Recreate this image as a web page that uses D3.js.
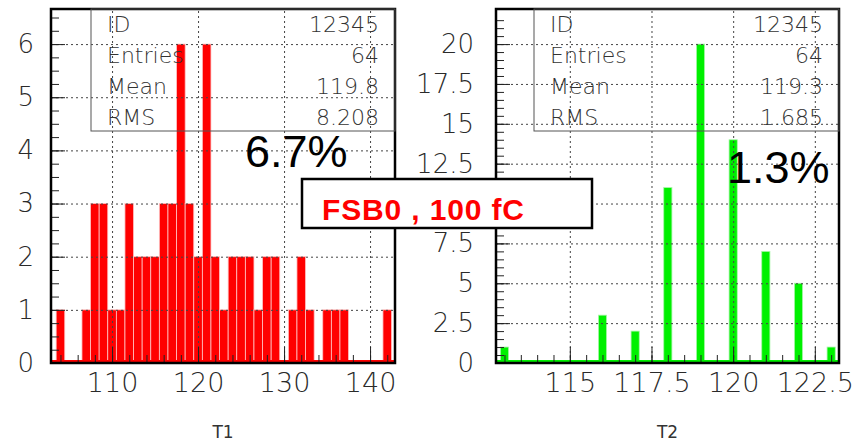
<!DOCTYPE html>
<html>
<head>
<meta charset="utf-8">
<script src="https://d3js.org/d3.v7.min.js"></script>
<style>
  html, body { margin: 0; padding: 0; background: #fff; }
  svg { display: block; }
  .tick text { font-family: 'DejaVu Sans', sans-serif; font-weight: 200; fill: #2a2a2a; }
  .stat { font-family: 'DejaVu Sans', sans-serif; font-weight: 200; font-size: 22px; fill: #333; }
</style>
</head>
<body>
<div id="chart"></div>
<script>
// ---- data ----
// T1: one-unit bins centred on the integers 103..142
var t1Bins = d3.range(103, 143);
var t1Counts = [0, 1, 0, 0, 1, 3, 3, 1, 1, 3,
                2, 2, 2, 3, 3, 6, 3, 2, 6, 2,
                1, 2, 2, 2, 1, 2, 2, 0, 1, 2,
                1, 0, 1, 1, 1, 0, 0, 0, 0, 1];
// T2: narrow bins, only these values are filled
var t2Bins = [113, 116, 117, 118, 119, 120, 121, 122, 123];
var t2Counts = [1, 3, 2, 11, 20, 14, 7, 5, 1];

var t1XTicks = [110, 120, 130, 140];
var t1YTicks = [0, 1, 2, 3, 4, 5, 6];
var t2XTicks = [115, 117.5, 120, 122.5];
var t2YTicks = [0, 2.5, 5, 7.5, 10, 12.5, 15, 17.5, 20];

var statLabels = ["ID", "Entries", "Mean", "RMS"];
var t1Stats = ["12345", "64", "119.8", "8.208"];
var t2Stats = ["12345", "64", "119.3", "1.685"];

var svg = d3.select("#chart").append("svg")
    .attr("width", 856)
    .attr("height", 443);

function histo(opt) {
    var x = d3.scaleLinear().domain(opt.xDomain).range([opt.x0, opt.x1]);
    var y = d3.scaleLinear().domain(opt.yDomain).range([opt.y1, opt.y0]);
    var g = svg.append("g");
    var w = opt.x1 - opt.x0, h = opt.y1 - opt.y0;

    // bars
    g.selectAll(".bar")
        .data(opt.bins.map(function(b, i){ return {v: b, n: opt.counts[i]}; })
                  .filter(function(d){ return d.n > 0; }))
        .enter().append("rect")
        .attr("x", function(d){ return Math.max(opt.x0, x(d.v - opt.half)); })
        .attr("width", function(d){ return x(d.v + opt.half) - Math.max(opt.x0, x(d.v - opt.half)); })
        .attr("y", function(d){ return y(d.n); })
        .attr("height", function(d){ return y(0) - y(d.n); })
        .attr("fill", opt.color)
        .attr("stroke", opt.edge)
        .attr("stroke-width", 0.8);

    // zero-level strip along the bottom
    g.append("rect")
        .attr("x", x(opt.xDomain[0]))
        .attr("y", y(0) - 3)
        .attr("width", w)
        .attr("height", 3)
        .attr("fill", opt.color);

    // grid
    var gx = g.append("g")
        .attr("transform", "translate(0," + opt.y1 + ")")
        .call(d3.axisBottom(x).tickValues(opt.xTicks).tickSize(-h).tickFormat(""));
    var gy = g.append("g")
        .attr("transform", "translate(" + opt.x0 + ",0)")
        .call(d3.axisLeft(y).tickValues(opt.yTicks.slice(1)).tickSize(-w).tickFormat(""));
    [gx, gy].forEach(function(a){
        a.select(".domain").remove();
        a.selectAll("line").attr("stroke", "#444").attr("stroke-dasharray", "2,3").attr("stroke-width", 1);
    });

    // minor + major ticks pointing inwards
    var mx = g.append("g")
        .attr("transform", "translate(0," + opt.y1 + ")")
        .call(d3.axisBottom(x).tickValues(opt.xMinor).tickSize(-8).tickFormat(""));
    var my = g.append("g")
        .attr("transform", "translate(" + opt.x0 + ",0)")
        .call(d3.axisLeft(y).tickValues(opt.yMinor).tickSize(-8).tickFormat(""));
    [mx, my].forEach(function(a){
        a.select(".domain").remove();
        a.selectAll("line").attr("stroke", "#222");
    });

    // labelled axes
    var ax = g.append("g")
        .attr("transform", "translate(0," + opt.y1 + ")")
        .call(d3.axisBottom(x).tickValues(opt.xTicks).tickSize(-16).tickPadding(10)
              .tickFormat(d3.format("")));
    var ay = g.append("g")
        .attr("transform", "translate(" + opt.x0 + ",0)")
        .call(d3.axisLeft(y).tickValues(opt.yTicks).tickSize(-14).tickPadding(opt.yPad)
              .tickFormat(d3.format("")));
    ax.select(".domain").remove();
    ay.select(".domain").remove();
    ax.selectAll("line").attr("stroke", "#222");
    ay.selectAll("line").attr("stroke", "#222");
    ax.selectAll("text").style("font-size", "27px");
    ay.selectAll("text").style("font-size", "26px");
    // labels that the annotation box covers in the original
    ay.selectAll(".tick").filter(function(d){ return opt.covered.indexOf(d) >= 0; })
        .select("text").remove();

    // frame
    g.append("rect")
        .attr("x", opt.x0).attr("y", opt.y0)
        .attr("width", w).attr("height", h)
        .attr("fill", "none")
        .attr("stroke", "#000")
        .attr("stroke-width", 2.5);

    // stats box
    g.append("rect")
        .attr("x", opt.boxX).attr("y", opt.y0)
        .attr("width", opt.x1 - opt.boxX).attr("height", 122)
        .attr("fill", "none")
        .attr("stroke", "#555")
        .attr("stroke-width", 1);
    statLabels.forEach(function(s, i){
        g.append("text").attr("class", "stat")
            .attr("x", opt.boxX + 16).attr("y", opt.y0 + 23 + i * 31)
            .text(s);
        g.append("text").attr("class", "stat")
            .attr("x", opt.x1 - 16).attr("y", opt.y0 + 23 + i * 31)
            .attr("text-anchor", "end")
            .text(opt.stats[i]);
    });

    // axis title
    g.append("text")
        .attr("x", (opt.x0 + opt.x1) / 2).attr("y", 438)
        .attr("text-anchor", "middle")
        .style("font-family", "'DejaVu Sans', sans-serif")
        .style("font-size", "17px")
        .style("fill", "#333")
        .text(opt.title);

    // resolution label
    g.append("text")
        .attr("x", opt.pctX).attr("y", opt.pctY)
        .style("font-family", "'Liberation Sans', Arial, sans-serif")
        .style("font-size", "45px")
        .style("fill", "#000")
        .text(opt.pct);
}

histo({
    x0: 51, x1: 395, y0: 9, y1: 363,
    xDomain: [102.9, 142.9], yDomain: [0, 6.66],
    bins: t1Bins, counts: t1Counts, half: 0.5,
    color: "#ff0000", edge: "#ffc4c4",
    xTicks: t1XTicks, yTicks: t1YTicks,
    xMinor: d3.range(104, 143, 2), yMinor: d3.range(0.25, 6.6, 0.25),
    yPad: 17, covered: [],
    boxX: 91, stats: t1Stats, title: "T1",
    pct: "6.7%", pctX: 245, pctY: 167
});

histo({
    x0: 496, x1: 839, y0: 9, y1: 363,
    xDomain: [112.74, 123.24], yDomain: [0, 22.2],
    bins: t2Bins, counts: t2Counts, half: 0.125,
    color: "#00f000", edge: "#a8f5a8",
    xTicks: t2XTicks, yTicks: t2YTicks,
    xMinor: d3.range(113, 123.1, 0.5), yMinor: d3.range(0.5, 22, 0.5),
    yPad: 22, covered: [10],
    boxX: 534, stats: t2Stats, title: "T2",
    pct: "1.3%", pctX: 727, pctY: 183
});

// annotation box in the middle
svg.append("rect")
    .attr("x", 302).attr("y", 179)
    .attr("width", 290).attr("height", 49)
    .attr("fill", "#fff")
    .attr("stroke", "#000")
    .attr("stroke-width", 2.5);
svg.append("text")
    .attr("x", 322).attr("y", 220)
    .attr("textLength", 202)
    .attr("lengthAdjust", "spacing")
    .style("font-family", "'Liberation Sans', Arial, sans-serif")
    .style("font-weight", "bold")
    .style("font-size", "30px")
    .style("fill", "#ff0000")
    .text("FSB0 , 100 fC");
</script>
</body>
</html>
